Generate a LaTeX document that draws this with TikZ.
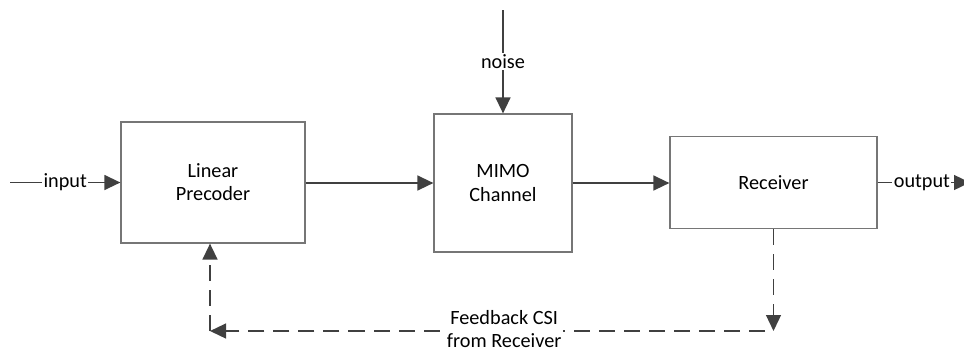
\documentclass[tikz,border=0pt]{standalone}
\usepackage{fontspec}
\setmainfont{Carlito}
\usetikzlibrary{arrows.meta}
\definecolor{linegray}{RGB}{64,64,64}
\definecolor{boxgray}{RGB}{118,118,118}

\begin{document}
\begin{tikzpicture}[x=0.025cm,y=-0.025cm,
	block/.style={draw=boxgray,line width=0.8pt,inner sep=0pt,align=center,font=\fontsize{14.4}{16.4}\selectfont},
	sig/.style={draw=linegray,line width=1.4pt,-{Triangle[length=0.4cm,width=0.37cm]}},
	fb/.style={sig,dash pattern=on 11.4pt off 6.4pt},
	lbl/.style={fill=white,inner sep=1pt,align=center,font=\fontsize{14.4}{16.4}\selectfont}]
	\useasboundingbox (0,0) rectangle (964,351);
	% blocks
	\node [block,minimum width=4.6cm,minimum height=3.025cm] (prec) at (213,182.5) {Linear\\Precoder};
	\node [block,minimum width=3.45cm,minimum height=3.45cm] (chan) at (503,183) {MIMO\\Channel};
	\node [block,minimum width=5.175cm,minimum height=2.3cm] (rx) at (773.5,182.5) {Receiver};
	% free ends
	\coordinate (in) at (10,182.5);
	\coordinate (out) at (970,182.5);
	\coordinate (nz) at (503,10);
	\coordinate (fbr) at (765,331);
	\coordinate (fbl) at (210,331);
	% forward path
	\draw [sig] (in) -- node [lbl] {input} (prec.west);
	\draw [sig] (prec.east |- chan.west) -- (chan.west);
	\draw [sig] (chan.east) -- (rx.west |- chan.east);
	\draw [sig] (rx.east) -- node [lbl,pos=0.48] {output} (out);
	\draw [sig] (nz) -- node [lbl] {noise} (chan.north);
	% feedback
	\draw [fb] (rx.south) -- (rx.south |- fbr);
	\draw [fb] (fbr) -- node [lbl,pos=0.47,yshift=1.5pt] {Feedback CSI\\from Receiver} (fbl);
	\draw [fb] (fbl) -- (fbl |- prec.south);
\end{tikzpicture}
\end{document}
